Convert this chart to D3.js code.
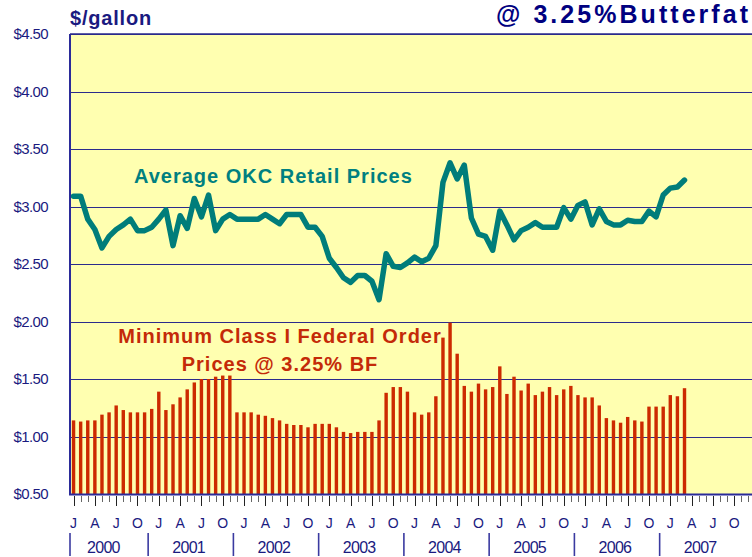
<!DOCTYPE html>
<html>
<head>
<meta charset="utf-8">
<script src="https://cdn.jsdelivr.net/npm/d3@7"></script>
<style>
  html, body { margin: 0; padding: 0; background: #ffffff; }
  svg { display: block; font-family: Arial, "Liberation Sans", sans-serif; }
</style>
</head>
<body>
<svg id="chart" width="752" height="557"></svg>
<script>
// category axis: Jan 2000 .. Dec 2007
const years = [2000, 2001, 2002, 2003, 2004, 2005, 2006, 2007];
const monthLetters = ['J', 'F', 'M', 'A', 'M', 'J', 'J', 'A', 'S', 'O', 'N', 'D'];
const yTicks = [0.5, 1.0, 1.5, 2.0, 2.5, 3.0, 3.5, 4.0, 4.5];

// Minimum Class I Federal Order price @ 3.25% BF, $/gallon (Jan 2000 - Mar 2007)
const classIPrices = [
  1.14, 1.13, 1.14, 1.14, 1.19, 1.21, 1.27, 1.23, 1.21, 1.21, 1.21, 1.24,
  1.39, 1.23, 1.28, 1.34, 1.41, 1.47, 1.50, 1.50, 1.52, 1.53, 1.53, 1.21,
  1.21, 1.21, 1.19, 1.18, 1.16, 1.14, 1.11, 1.10, 1.10, 1.08, 1.11, 1.11,
  1.11, 1.08, 1.04, 1.03, 1.04, 1.04, 1.04, 1.14, 1.38, 1.43, 1.43, 1.39,
  1.21, 1.19, 1.21, 1.35, 1.86, 1.99, 1.72, 1.44, 1.39, 1.46, 1.41, 1.43,
  1.61, 1.37, 1.52, 1.40, 1.46, 1.36, 1.39, 1.43, 1.36, 1.41, 1.44, 1.36,
  1.34, 1.34, 1.27, 1.16, 1.14, 1.12, 1.17, 1.14, 1.13, 1.26, 1.26, 1.26,
  1.36, 1.35, 1.42
];

// Average OKC retail price, $/gallon (Jan 2000 - Mar 2007)
const retailPrices = [
  3.09, 3.09, 2.89, 2.80, 2.64, 2.74, 2.80, 2.84, 2.89, 2.79, 2.79, 2.82,
  2.89, 2.97, 2.66, 2.92, 2.81, 3.07, 2.91, 3.10, 2.79, 2.89, 2.93, 2.89,
  2.89, 2.89, 2.89, 2.93, 2.89, 2.85, 2.93, 2.93, 2.93, 2.82, 2.82, 2.74,
  2.55, 2.47, 2.38, 2.34, 2.40, 2.40, 2.35, 2.19, 2.59, 2.48, 2.47, 2.51,
  2.56, 2.52, 2.55, 2.66, 3.21, 3.38, 3.24, 3.36, 2.90, 2.76, 2.74, 2.62,
  2.96, 2.84, 2.71, 2.79, 2.82, 2.86, 2.82, 2.82, 2.82, 2.99, 2.89, 3.01,
  3.04, 2.84, 2.98, 2.87, 2.84, 2.84, 2.88, 2.87, 2.87, 2.96, 2.91, 3.10,
  3.16, 3.17, 3.23
];

const months = years.flatMap(yr => monthLetters.map((m, i) => ({ key: yr + '-' + i, year: yr, idx: i, letter: m })));

const NAVY = '#1a1a80';
const plot = { left: 70, right: 752, top: 34, bottom: 494 };

const svg = d3.select('#chart');

const x = d3.scaleBand()
  .domain(months.map(d => d.key))
  .range([plot.left, plot.right])
  .paddingInner(0.52)
  .paddingOuter(0.26);

const y = d3.scaleLinear()
  .domain([0.5, 4.5])
  .range([plot.bottom, plot.top]);

const cx = k => x(k) + x.bandwidth() / 2;
const step = x.step();

// plot background
svg.append('rect')
  .attr('x', plot.left).attr('y', plot.top)
  .attr('width', plot.right - plot.left + 2).attr('height', plot.bottom - plot.top)
  .attr('fill', '#ffffb0');

// gridlines
svg.append('g').selectAll('line')
  .data(yTicks.slice(1))
  .join('line')
  .attr('x1', plot.left).attr('x2', plot.right + 2)
  .attr('y1', d => Math.round(y(d)) + 0.5).attr('y2', d => Math.round(y(d)) + 0.5)
  .attr('stroke', '#2b2b8c')
  .attr('stroke-width', 1.2);

// y labels
svg.append('g').selectAll('text')
  .data(yTicks)
  .join('text')
  .attr('x', 48)
  .attr('y', d => y(d))
  .attr('dy', '0.36em')
  .attr('text-anchor', 'end')
  .attr('font-size', 15)
  .attr('letter-spacing', -0.6)
  .attr('fill', NAVY)
  .text(d => '$' + d.toFixed(2));

// bars
const barData = classIPrices.map((v, i) => ({ key: months[i].key, value: v }));
svg.append('g').selectAll('rect')
  .data(barData)
  .join('rect')
  .attr('x', d => x(d.key))
  .attr('width', x.bandwidth())
  .attr('y', d => y(d.value))
  .attr('height', d => y(0.5) - y(d.value))
  .attr('fill', '#cc2a00');

// retail line
const lineData = retailPrices.map((v, i) => ({ key: months[i].key, value: v }));
svg.append('path')
  .datum(lineData)
  .attr('fill', 'none')
  .attr('stroke', '#007d7a')
  .attr('stroke-width', 5.5)
  .attr('stroke-linejoin', 'round')
  .attr('stroke-linecap', 'round')
  .attr('d', d3.line().x(d => cx(d.key)).y(d => y(d.value)));

// plot frame (left, top, bottom)
svg.append('line')
  .attr('x1', plot.left).attr('x2', plot.left)
  .attr('y1', plot.top).attr('y2', plot.bottom + 1)
  .attr('stroke', '#2b2b99').attr('stroke-width', 2);
svg.append('line')
  .attr('x1', plot.left).attr('x2', plot.right + 2)
  .attr('y1', plot.top).attr('y2', plot.top)
  .attr('stroke', '#2b2b8c').attr('stroke-width', 1.3);
svg.append('line')
  .attr('x1', plot.left - 1).attr('x2', plot.right + 2)
  .attr('y1', plot.bottom + 0.5).attr('y2', plot.bottom + 0.5)
  .attr('stroke', '#2b2b99').attr('stroke-width', 2);

// month ticks
svg.append('g').selectAll('line')
  .data(months)
  .join('line')
  .attr('x1', d => Math.round(cx(d.key)) + 0.5)
  .attr('x2', d => Math.round(cx(d.key)) + 0.5)
  .attr('y1', plot.bottom + 2)
  .attr('y2', d => d.idx % 3 === 0 ? plot.bottom + 12 : plot.bottom + 8)
  .attr('stroke', d => d.idx % 3 === 0 ? '#222' : '#666')
  .attr('stroke-width', 1);

// quarter letters
svg.append('g').selectAll('text')
  .data(months.filter(d => d.idx % 3 === 0))
  .join('text')
  .attr('x', d => cx(d.key))
  .attr('y', 528)
  .attr('text-anchor', 'middle')
  .attr('font-size', 14)
  .attr('fill', NAVY)
  .text(d => d.letter);

// year separators and labels
svg.append('g').selectAll('line')
  .data(years)
  .join('line')
  .attr('x1', (d, i) => i === 0 ? plot.left : x(d + '-0') - x.paddingOuter() * step - step)
  .attr('x2', (d, i) => i === 0 ? plot.left : x(d + '-0') - x.paddingOuter() * step - step)
  .attr('y1', 533).attr('y2', 556)
  .attr('stroke', '#3a3aa0').attr('stroke-width', 1.6);

svg.append('g').selectAll('text')
  .data(years)
  .join('text')
  .attr('x', d => x(d + '-0') - x.paddingOuter() * step + 4.7 * step)
  .attr('y', 553)
  .attr('text-anchor', 'middle')
  .attr('font-size', 16)
  .attr('letter-spacing', -0.7)
  .attr('fill', NAVY)
  .text(d => d);

// titles
svg.append('text')
  .attr('x', 70).attr('y', 25)
  .attr('font-size', 20).attr('font-weight', 'bold')
  .attr('letter-spacing', 0.8)
  .attr('fill', NAVY)
  .text('$/gallon');

svg.append('text')
  .attr('x', 748).attr('y', 23)
  .attr('text-anchor', 'end')
  .attr('font-size', 25).attr('font-weight', 'bold')
  .attr('textLength', 252).attr('lengthAdjust', 'spacing')
  .attr('fill', '#000080')
  .text('@ 3.25%Butterfat');

// series labels
svg.append('text')
  .attr('x', 134).attr('y', 183)
  .attr('font-size', 20).attr('font-weight', 'bold')
  .attr('letter-spacing', 1)
  .attr('fill', '#008080')
  .text('Average OKC Retail Prices');

svg.append('g').selectAll('text')
  .data(['Minimum Class I Federal Order', 'Prices @ 3.25% BF'])
  .join('text')
  .attr('x', 280)
  .attr('y', (d, i) => 343 + i * 28)
  .attr('text-anchor', 'middle')
  .attr('font-size', 20).attr('font-weight', 'bold')
  .attr('letter-spacing', 1)
  .attr('fill', '#c42a08')
  .text(d => d);
</script>
</body>
</html>
